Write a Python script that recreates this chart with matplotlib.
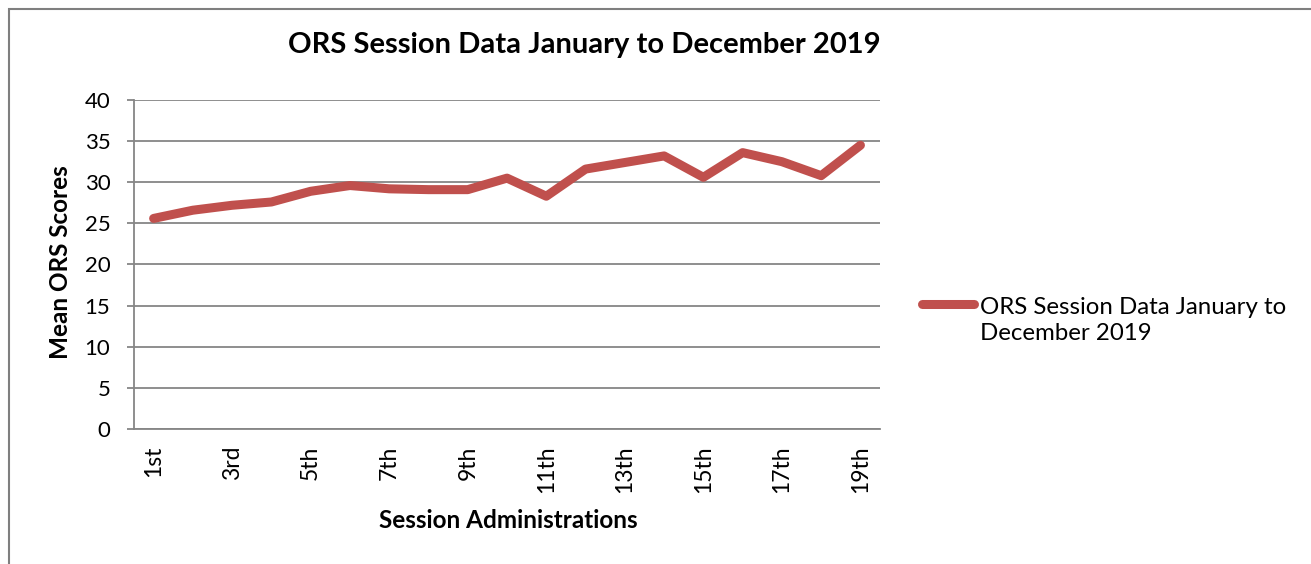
import matplotlib
matplotlib.use('Agg')
import matplotlib.pyplot as plt
from matplotlib.lines import Line2D
from matplotlib.patches import Rectangle

# mean ORS score per session, January to December 2019
sessions = ['1st', '2nd', '3rd', '4th', '5th', '6th', '7th', '8th', '9th', '10th',
            '11th', '12th', '13th', '14th', '15th', '16th', '17th', '18th', '19th']
mean_scores = [25.6, 26.6, 27.2, 27.6, 28.9, 29.6, 29.2, 29.1, 29.1, 30.5,
               28.3, 31.6, 32.4, 33.2, 30.6, 33.6, 32.5, 30.8, 34.5]
series_name = 'ORS Session Data January to\nDecember 2019'

plt.rcParams['font.family'] = ['Lato', 'DejaVu Sans']
red = '#C0504D'
grid_col = '#868686'
W, H = 1311, 564

fig = plt.figure(figsize=(W / 100, H / 100), dpi=100)
ax = fig.add_axes([0.1022, 0.2394, 0.5691, 0.5833])

x = list(range(1, len(sessions) + 1))
ax.plot(x, mean_scores, color=red, lw=6.5, solid_capstyle='round',
        solid_joinstyle='round')

ax.set_ylim(0, 40)
ax.set_yticks(range(0, 41, 5))
ax.set_xlim(0.5, len(sessions) + 0.5)
ax.set_xticks(x[::2])
ax.set_xticklabels(sessions[::2], rotation=90)
ax.yaxis.grid(True, color=grid_col, lw=1.3)
ax.set_axisbelow(True)
for s in ['top', 'right']:
    ax.spines[s].set_visible(False)
for s in ['left', 'bottom']:
    ax.spines[s].set_color(grid_col)
    ax.spines[s].set_linewidth(1.3)
ax.tick_params(axis='y', length=5, width=1.3, color=grid_col, labelsize=16, pad=12)
ax.tick_params(axis='x', length=0, labelsize=16.5, pad=12)

fig.text(584 / W, 1 - 45 / H, 'ORS Session Data January to December 2019',
         ha='center', va='center', fontsize=21, fontweight='bold')
fig.text(60 / W, 1 - 262 / H, 'Mean ORS Scores', rotation=90, ha='center',
         va='center', fontsize=17.5, fontweight='bold')
fig.text(508 / W, 1 - 521 / H, 'Session Administrations', ha='center',
         va='center', fontsize=17.5, fontweight='bold')

# legend: line sample beside the first line of the series name
fig.add_artist(Line2D([922 / W, 974 / W], [1 - 304 / H, 1 - 304 / H],
                      transform=fig.transFigure, color=red, lw=6.5,
                      solid_capstyle='round'))
fig.text(980 / W, 1 - 320.5 / H, series_name, ha='left', va='center',
         fontsize=17.3, linespacing=1.35)

# frame around the chart area
fig.add_artist(Rectangle((9 / W, -0.1), 1.2, (H - 9) / H + 0.1,
                         transform=fig.transFigure, fill=False,
                         edgecolor='#7f7f7f', lw=1.5))

fig.savefig('out.png', dpi=100)
